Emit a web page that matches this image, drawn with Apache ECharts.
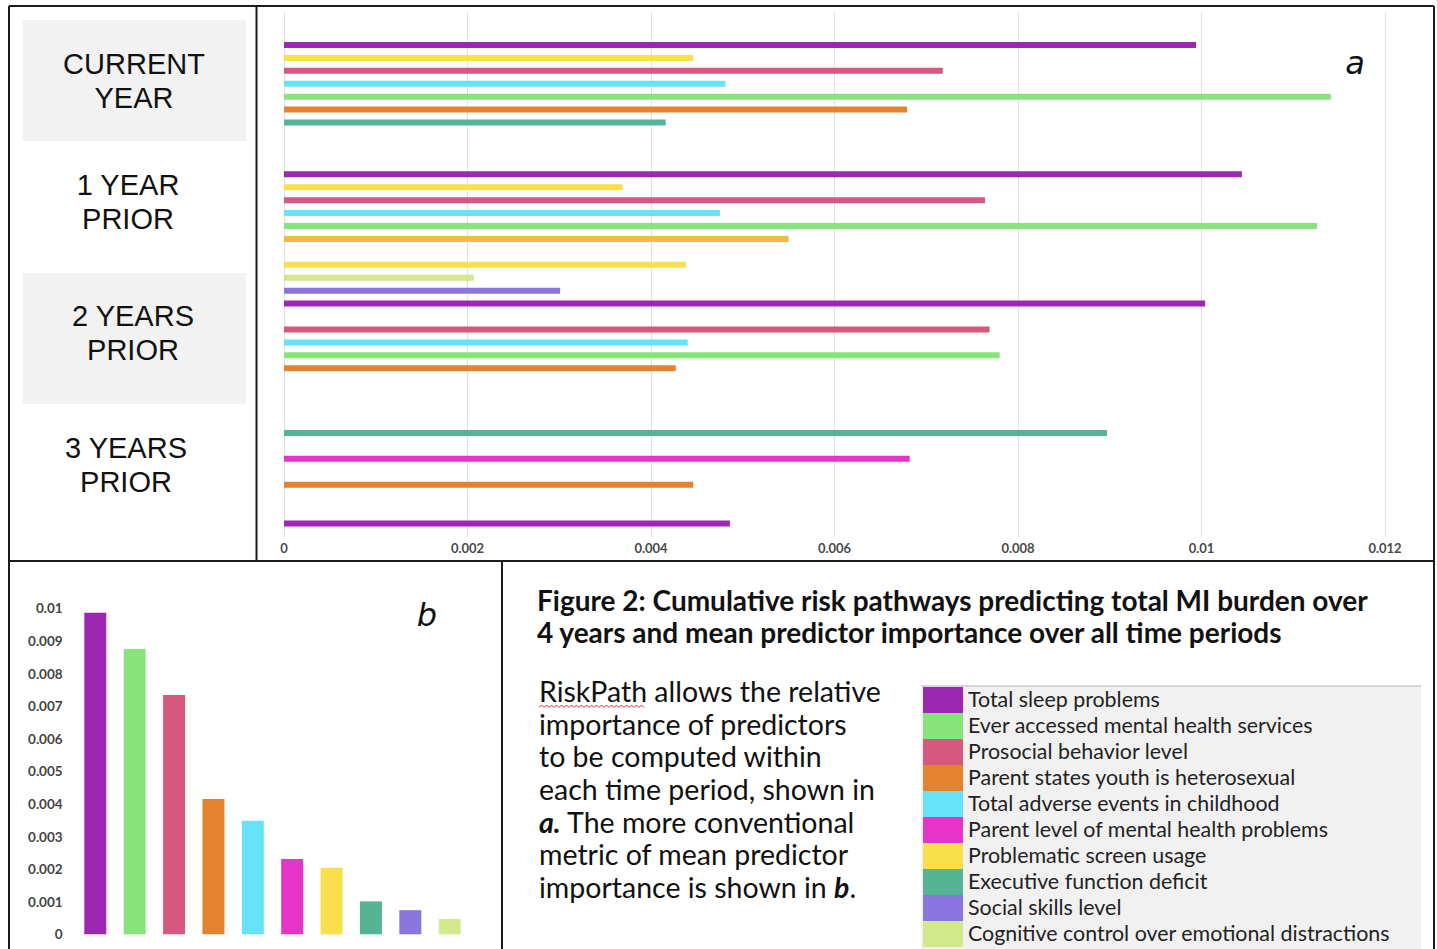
<!DOCTYPE html>
<html>
<head>
<meta charset="utf-8">
<script src="https://cdn.jsdelivr.net/npm/echarts@6/dist/echarts.min.js"></script>
<style>
  html, body { margin: 0; padding: 0; background: #ffffff; }
  #chart { width: 1437px; height: 949px; }
</style>
</head>
<body>
<div id="chart"></div>
<script>
// ---- data ----
const predictors = [
  'Total sleep problems',
  'Ever accessed mental health services',
  'Prosocial behavior level',
  'Parent states youth is heterosexual',
  'Total adverse events in childhood',
  'Parent level of mental health problems',
  'Problematic screen usage',
  'Executive function deficit',
  'Social skills level',
  'Cognitive control over emotional distractions'
];

// mean predictor importance over all time periods (panel b)
const meanImportance = [0.00986, 0.00875, 0.00734, 0.00415, 0.00348, 0.00231, 0.00204, 0.00101, 0.00074, 0.00047];

// panel a, rows top to bottom: predictor index per row (null = empty row, 10 = bar without legend entry)
const rowPredictor = [
  0, 6, 2, 4, 1, 3, 7,
  null, null, null,
  0, 6, 2, 4, 1, 10,
  null,
  6, 9, 8, 0,
  null,
  2, 4, 1, 3,
  null, null, null, null,
  7, null, 5, null, 3, null, null, 0
];
const rowImportance = [
  0.00994, 0.00446, 0.00718, 0.00481, 0.01141, 0.00679, 0.00416,
  null, null, null,
  0.01044, 0.00369, 0.00764, 0.00475, 0.01126, 0.00550,
  null,
  0.00438, 0.00207, 0.00301, 0.01004,
  null,
  0.00769, 0.00440, 0.00780, 0.00427,
  null, null, null, null,
  0.00897, null, 0.00682, null, 0.00446, null, null, 0.00486
];

const periodLabels = [['CURRENT', 'YEAR'], ['1 YEAR', 'PRIOR'], ['2 YEARS', 'PRIOR'], ['3 YEARS', 'PRIOR']];
const tickLabelsA = ['0', '0.002', '0.004', '0.006', '0.008', '0.01', '0.012'];
const tickLabelsB = ['0', '0.001', '0.002', '0.003', '0.004', '0.005', '0.006', '0.007', '0.008', '0.009', '0.01'];

const titleLines = [
  'Figure 2: Cumulative risk pathways predicting total MI burden over',
  '4 years and mean predictor importance over all time periods'
];

// ---- styles ----
const palette = ['#9c27b0', '#86e47a', '#d6587f', '#e4822f', '#67e3f9', '#e534c8',
                 '#f9df4b', '#55b494', '#8a75de', '#d3e88b', '#f3b945'];
const frameColor = '#1c1c1c';
const bandColor = '#f2f2f2';

// ---- layout helpers ----
const chart = echarts.init(document.getElementById('chart'), null, { renderer: 'svg' });

const rowIds = rowPredictor.map((_, i) => 'r' + i);
const barsA = rowImportance.map((v, i) =>
  v == null ? '-' : { value: v, itemStyle: { color: palette[rowPredictor[i]] } });
const barsB = meanImportance.map((v, i) => ({ value: v, itemStyle: { color: palette[i] } }));

const graphics = [];

// grey bands behind the period labels
graphics.push({ type: 'rect', z: 0, shape: { x: 23, y: 20, width: 223, height: 121 }, style: { fill: bandColor } });
graphics.push({ type: 'rect', z: 0, shape: { x: 23, y: 273, width: 223, height: 131 }, style: { fill: bandColor } });

// period labels
const periodCenters = [[134, 81], [128, 202], [133, 333], [126, 465]];
periodLabels.forEach((lines, i) => {
  graphics.push({
    type: 'text', z: 5,
    x: periodCenters[i][0], y: periodCenters[i][1],
    style: {
      text: lines.join('\n'), fill: '#111',
      font: '29px "Liberation Sans", Arial, sans-serif',
      lineHeight: 34, align: 'center', verticalAlign: 'middle'
    }
  });
});

// panel letters
graphics.push({ type: 'text', z: 5, x: 1355, y: 63,
  style: { text: 'a', fill: '#111', font: 'italic 32px "DejaVu Sans", sans-serif', align: 'center', verticalAlign: 'middle' } });
graphics.push({ type: 'text', z: 5, x: 427, y: 615,
  style: { text: 'b', fill: '#111', font: 'italic 32px "DejaVu Sans", sans-serif', align: 'center', verticalAlign: 'middle' } });

// figure title
graphics.push({ type: 'text', z: 5, x: 537, y: 616,
  style: { text: titleLines.join('\n'), fill: '#111', font: 'bold 28px Lato, sans-serif',
           lineHeight: 32, align: 'left', verticalAlign: 'middle' } });

// caption text
graphics.push({ type: 'text', z: 5, x: 539, y: 789,
  style: {
    text: 'RiskPath allows the relative\nimportance of predictors\nto be computed within\neach time period, shown in\n{bi|a.} The more conventional\nmetric of mean predictor\nimportance is shown in {bi|b}.',
    fill: '#111', font: '28.5px Lato, sans-serif', lineHeight: 32.6, align: 'left', verticalAlign: 'middle',
    rich: { bi: { font: 'italic bold 28.5px Lato, sans-serif', fill: '#111', lineHeight: 32.6 } }
  } });
// spell-check squiggle under "RiskPath"
const squiggle = [];
for (let x = 539, k = 0; x <= 645; x += 2.5, k++) squiggle.push([x, k % 2 ? 705 : 707.5]);
graphics.push({ type: 'polyline', z: 5, shape: { points: squiggle }, style: { stroke: '#d9302c', lineWidth: 1, fill: null } });

// legend block
graphics.push({ type: 'rect', z: 1, shape: { x: 921, y: 686, width: 500, height: 264 }, style: { fill: '#f1f1f1' } });
graphics.push({ type: 'line', z: 2, shape: { x1: 921, y1: 686, x2: 1421, y2: 686 }, style: { stroke: '#c8c8c8', lineWidth: 1.5 } });
predictors.forEach((name, i) => {
  const y = 687 + i * 26;
  graphics.push({ type: 'rect', z: 3, shape: { x: 923, y: y, width: 40, height: 26 }, style: { fill: palette[i] } });
  graphics.push({ type: 'text', z: 4, x: 968, y: y + 12,
    style: { text: name, fill: '#222', font: '21.4px Lato, sans-serif', align: 'left', verticalAlign: 'middle' } });
});

// frame lines
const frame = [
  [9, 6, 1434, 6], [9, 6, 9, 949], [1434, 6, 1434, 949],
  [256.5, 6, 256.5, 561], [9, 561, 1434, 561], [502, 561, 502, 949]
];
frame.forEach(f => graphics.push({ type: 'line', z: 10,
  shape: { x1: f[0], y1: f[1], x2: f[2], y2: f[3] }, style: { stroke: frameColor, lineWidth: 2 } }));

const axisTextA = { color: '#4a4a4a', fontSize: 13, fontFamily: 'Lato, sans-serif', fontWeight: 'bold' };

const option = {
  backgroundColor: '#ffffff',
  animation: false,
  grid: [
    { left: 284, top: 12, width: 1101, height: 525 },
    { left: 284, top: 38.5, width: 1101, height: 491.4 },
    { left: 75.6, top: 608.3, width: 393.8, height: 326 }
  ],
  xAxis: [
    { gridIndex: 0, type: 'value', min: 0, max: 0.012, interval: 0.002,
      axisLine: { show: false }, axisTick: { show: false },
      splitLine: { show: true, lineStyle: { color: '#e0e0e0', width: 1 } },
      axisLabel: Object.assign({ margin: 4, formatter: (v, i) => tickLabelsA[i] }, axisTextA) },
    { gridIndex: 1, type: 'value', min: 0, max: 0.012, show: false },
    { gridIndex: 2, type: 'category', data: predictors, show: false }
  ],
  yAxis: [
    { gridIndex: 0, type: 'value', min: 0, max: 1, show: false },
    { gridIndex: 1, type: 'category', data: rowIds, inverse: true, show: false },
    { gridIndex: 2, type: 'value', min: 0, max: 0.01, interval: 0.001,
      axisLine: { show: false }, axisTick: { show: false }, splitLine: { show: false },
      axisLabel: { margin: 13, formatter: (v, i) => tickLabelsB[i],
                   color: '#444', fontSize: 13.5, fontFamily: 'Lato, sans-serif', fontWeight: 'bold' } }
  ],
  series: [
    { type: 'bar', xAxisIndex: 1, yAxisIndex: 1, data: barsA, barWidth: 6 },
    { type: 'bar', xAxisIndex: 2, yAxisIndex: 2, data: barsB, barWidth: 22 }
  ],
  graphic: graphics
};

chart.setOption(option);
</script>
</body>
</html>
